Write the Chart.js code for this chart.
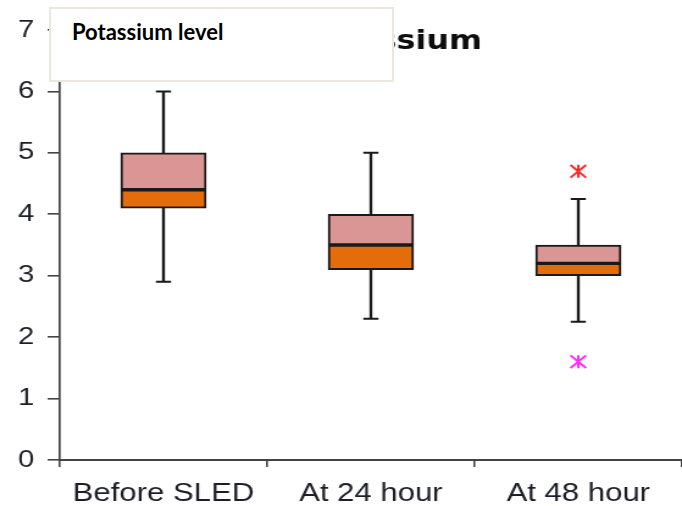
<!DOCTYPE html>
<html>
<head>
<meta charset="utf-8">
<script src="https://cdn.jsdelivr.net/npm/chart.js@4.4.0/dist/chart.umd.min.js"></script>
<style>
  html, body { margin: 0; padding: 0; background: #fff; overflow: hidden; }
  /* the source picture is stretched sideways, so the chart is too */
  #wrap { position: absolute; left: 0; top: 0; width: 559px; height: 506px;
          transform: scaleX(1.22); transform-origin: 0 0; }
  #note { position: absolute; left: 49px; top: 7px; width: 345px; height: 75px;
          box-sizing: border-box; padding: 12px 0 0 21px; background: #fff;
          border: 2px solid #ebe7dc; font: bold 22px/22px Lato, "Open Sans", sans-serif; color: #000; }
</style>
</head>
<body>
<div id="wrap"><canvas id="box-plot" width="559" height="506"></canvas></div>
<div id="note">Potassium level</div>
<script>
const categories = ['Before SLED', 'At 24 hour', 'At 48 hour'];
const mins    = [2.9, 2.3, 2.25];
const q1s     = [4.1, 3.1, 3.0];
const medians = [4.4, 3.5, 3.2];
const q3s     = [5.0, 4.0, 3.5];
const maxs    = [6.0, 5.0, 4.25];
const highOutliers = [null, null, 4.7];
const lowOutliers  = [null, null, 1.6];

const edge = '#1a1a1a';

function star(values, color) {
  // asterisk = an X plus a vertical stroke
  const base = { type: 'line', data: values, showLine: false, pointBorderColor: color,
                 pointBorderWidth: 2, borderColor: color, backgroundColor: color };
  return [
    Object.assign({}, base, { pointStyle: 'crossRot', pointRadius: 9, pointHoverRadius: 9 }),
    Object.assign({}, base, { pointStyle: 'line', pointRotation: 90, pointRadius: 6.5, pointHoverRadius: 6.5 })
  ];
}

const sideTitle = {
  id: 'sideTitle',
  afterDraw(chart) {
    const ctx = chart.ctx;
    ctx.save();
    ctx.font = 'bold 26px "DejaVu Sans", Verdana, sans-serif';
    ctx.fillStyle = '#0d0d0d';
    ctx.textAlign = 'right';
    ctx.fillText('Potassium', 395, 49);
    ctx.restore();
  }
};

const ctx = document.getElementById('box-plot').getContext('2d');
const myChart = new Chart(ctx, {
  type: 'bar',
  data: {
    labels: categories,
    datasets: [
      { label: 'Q1-median', data: categories.map((c, i) => [q1s[i], medians[i]]),
        backgroundColor: '#e46c0a', borderColor: edge, borderWidth: 2, borderSkipped: false,
        grouped: false, barThickness: 70 },
      { label: 'median-Q3', data: categories.map((c, i) => [medians[i], q3s[i]]),
        backgroundColor: '#d99694', borderColor: edge, borderWidth: 2, borderSkipped: false,
        grouped: false, barThickness: 70 },
      { label: 'upper whisker', data: categories.map((c, i) => [q3s[i], maxs[i]]),
        backgroundColor: edge, borderWidth: 0, grouped: false, barThickness: 1.7 },
      { label: 'lower whisker', data: categories.map((c, i) => [mins[i], q1s[i]]),
        backgroundColor: edge, borderWidth: 0, grouped: false, barThickness: 1.7 },
      { type: 'line', label: 'max', data: maxs, showLine: false, pointStyle: 'line',
        pointRadius: 6.2, pointHoverRadius: 6.2, pointBorderWidth: 2, pointBorderColor: edge, borderColor: edge },
      { type: 'line', label: 'min', data: mins, showLine: false, pointStyle: 'line',
        pointRadius: 6.2, pointHoverRadius: 6.2, pointBorderWidth: 2, pointBorderColor: edge, borderColor: edge },
      ...star(highOutliers, '#ff2a2a'),
      ...star(lowOutliers, '#ff2bff')
    ]
  },
  options: {
    responsive: false,
    animation: false,
    layout: { autoPadding: false, padding: { top: 30, right: 0, bottom: 0, left: 0 } },
    plugins: { legend: { display: false }, tooltip: { enabled: false } },
    scales: {
      x: {
        offset: true,
        grid: { offset: true, drawOnChartArea: false, tickLength: 7, color: '#444', lineWidth: 1.6 },
        border: { color: '#444', width: 2 },
        ticks: { color: '#1e1e28', padding: 12, font: { family: '"Liberation Sans", Arial', size: 25.5 } },
        afterFit(scale) { scale.height = 46; scale.paddingLeft = 0; scale.paddingRight = 0; }
      },
      y: {
        min: 0, max: 7,
        grid: { drawOnChartArea: false, tickLength: 10, color: '#444', lineWidth: 1.6 },
        border: { color: '#444', width: 1.7 },
        ticks: { stepSize: 1, color: '#1e1e28', padding: 11, font: { family: '"Liberation Sans", Arial', size: 24 } },
        afterFit(scale) { scale.width = 49; }
      }
    }
  },
  plugins: [sideTitle]
});
</script>
</body>
</html>
